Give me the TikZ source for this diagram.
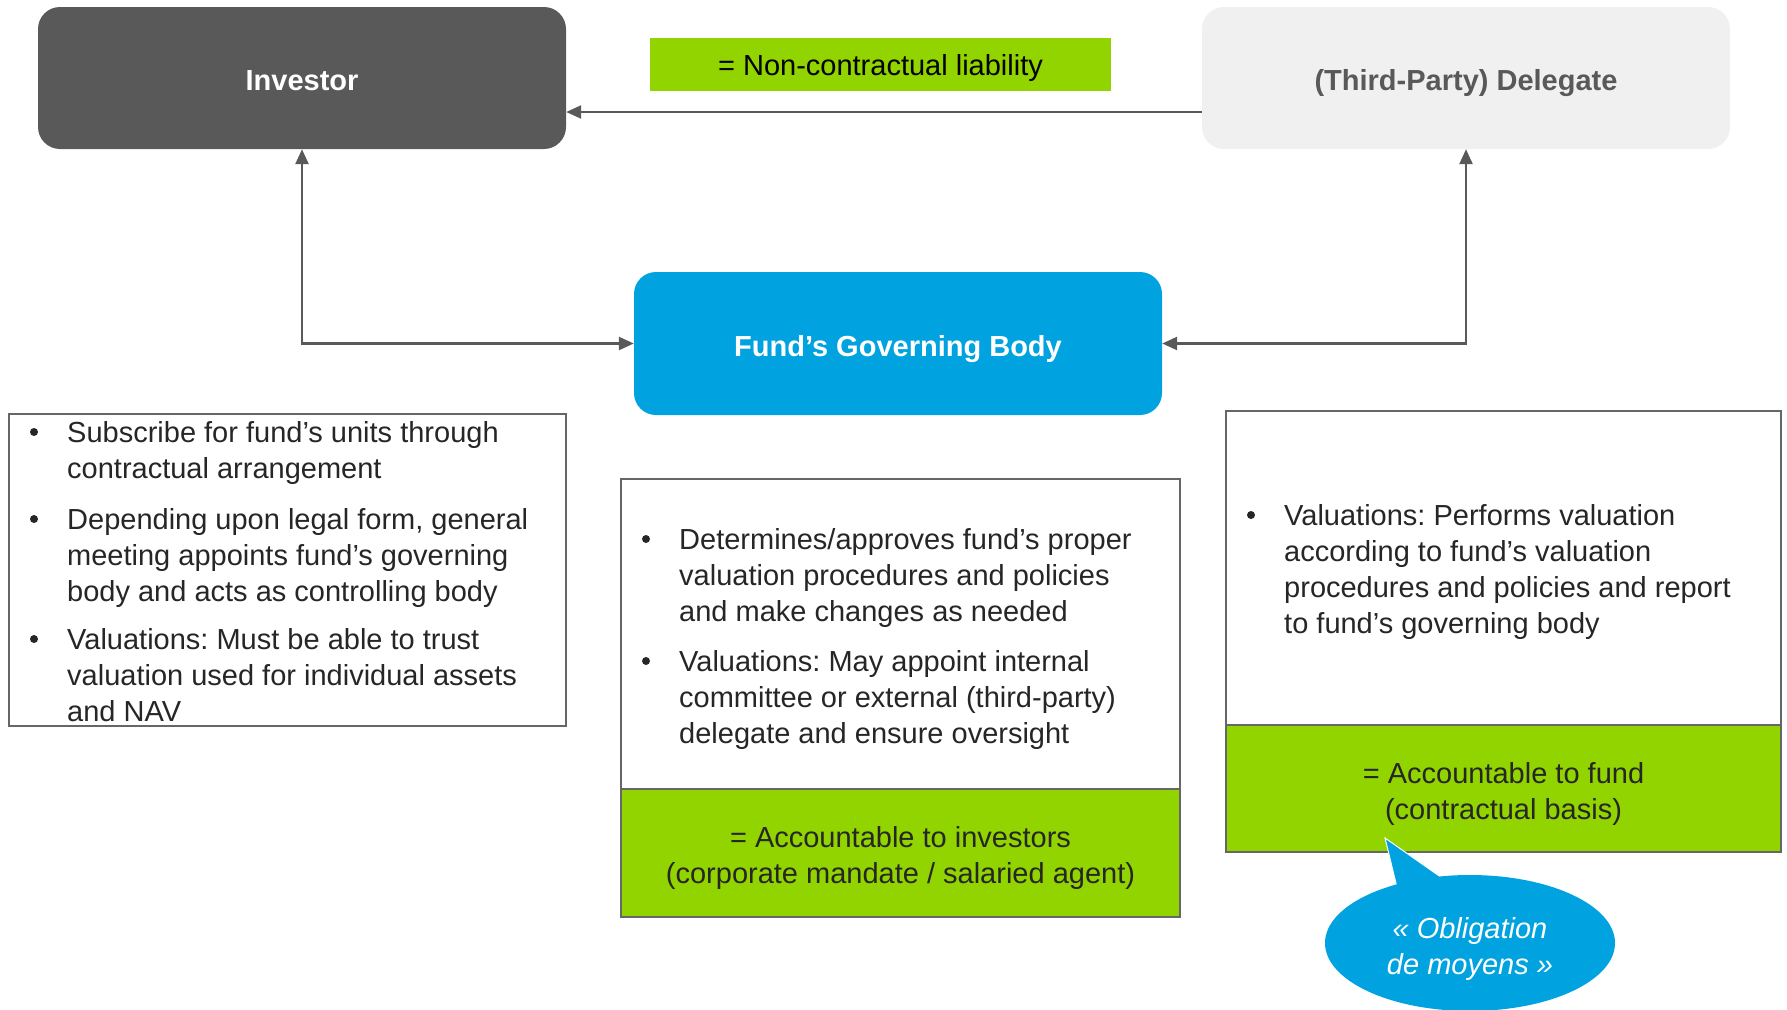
\documentclass[tikz,border=0pt]{standalone}
\usepackage{fontspec}
\setmainfont{Liberation Sans}
\usetikzlibrary{arrows.meta,shapes.geometric}
\frenchspacing
\definecolor{dgray}{HTML}{595959}
\definecolor{lgray}{HTML}{F0F0F0}
\definecolor{fblue}{HTML}{00A3E0}
\definecolor{fgreen}{HTML}{92D400}
\definecolor{txt}{HTML}{262626}
\definecolor{bord}{HTML}{666666}
\tikzset{
  every node/.style={font=\fontsize{29}{36}\selectfont},
  titlebox/.style={rounded corners=22pt, minimum width=528pt, minimum height=142pt, inner sep=0pt,
    text height=25pt, text depth=0pt, font=\bfseries\fontsize{29}{35}\selectfont},
  conn/.style={draw=dgray, line width=2.5pt, {Triangle[length=15pt,width=13pt]}-{Triangle[length=15pt,width=13pt]}},
  conn1/.style={draw=dgray, line width=2.5pt, -{Triangle[length=15pt,width=13pt]}},
  textbox/.style={draw=bord, line width=2pt, fill=white, inner sep=0pt},
  greenbox/.style={draw=bord, line width=2pt, fill=fgreen, inner sep=0pt},
  gtext/.style={inner sep=0pt, align=center, text=txt},
  para/.style={anchor=north west, inner sep=0pt, align=left, text=txt},
  bul/.style={fill=txt}
}
\begin{document}
\begin{tikzpicture}[x=1pt,y=-1pt]
\useasboundingbox (0,0) rectangle (1787,1009);
% title boxes
\node[titlebox, fill=dgray, text=white] (inv) at (302,78) {Investor};
\node[titlebox, fill=lgray, text=dgray] (del) at (1466,78) {(Third-Party) Delegate};
\node[titlebox, fill=fblue, text=white, minimum height=143pt] (fgb) at (898,343.5) {Fund’s Governing Body};
\node[fill=fgreen, minimum width=461pt, minimum height=53pt, inner sep=0pt, text=black,
  text height=22pt, text depth=0pt] (ncl) at (880.5,64.5) {= Non-contractual liability};
% connectors
\coordinate (dl) at (del.west |- 0,112);
\coordinate (ir) at (inv.east |- 0,112);
\draw[conn1] (dl) -- (ir);
\draw[conn] (inv.south) |- (fgb.west);
\draw[conn] (del.south) |- (fgb.east);
% left text box
\node[textbox, minimum width=557pt, minimum height=312pt] (lbox) at (287.5,570) {};
\fill[bul] (34,432) circle (4pt);
\fill[bul] (34,519) circle (4pt);
\fill[bul] (34,639) circle (4pt);
\node[para] (l1) at (67,421) {Subscribe for fund’s units through\\contractual arrangement};
\node[para] (l2) at (67,508) {Depending upon legal form, general\\meeting appoints fund’s governing\\body and acts as controlling body};
\node[para] (l3) at (67,628) {Valuations: Must be able to trust\\valuation used for individual assets\\and NAV};
% middle box
\node[textbox, minimum width=559pt, minimum height=310pt] (mbox) at (900.5,634) {};
\node[greenbox, minimum width=559pt, minimum height=128pt] (mgreen) at (900.5,853) {};
\node[gtext] (mgt) at ([yshift=-4.5pt]mgreen.center) {= Accountable to investors\\(corporate mandate / salaried agent)};
\fill[bul] (646,539) circle (4pt);
\fill[bul] (646,661) circle (4pt);
\node[para] (m1) at (679,528) {Determines/approves fund’s proper\\valuation procedures and policies\\and make changes as needed};
\node[para] (m2) at (679,650) {Valuations: May appoint internal\\committee or external (third-party)\\delegate and ensure oversight};
% right box
\node[textbox, minimum width=555pt, minimum height=314pt] (rbox) at (1503.5,568) {};
\node[greenbox, minimum width=555pt, minimum height=127pt] (rgreen) at (1503.5,788.5) {};
\node[gtext] (rgt) at ([yshift=-5pt]rgreen.center) {= Accountable to fund\\(contractual basis)};
\fill[bul] (1251,515) circle (4pt);
\node[para] (r1) at (1284,504) {Valuations: Performs valuation\\according to fund’s valuation\\procedures and policies and report\\to fund’s governing body};
% callout
\coordinate (tip) at (1385,838);
\fill[fblue, draw=white, line width=1pt] (tip) -- (1400,900) -- (1445,880) -- cycle;
\node[ellipse, fill=fblue, minimum width=290pt, minimum height=136pt, inner sep=0pt] (call) at (1470,943) {};
\node[text=white, align=center, inner sep=0pt, font=\itshape\fontsize{29}{36}\selectfont] (callt)
  at ([yshift=-6pt]call.center) {« Obligation\\de moyens »};
\end{tikzpicture}
\end{document}
